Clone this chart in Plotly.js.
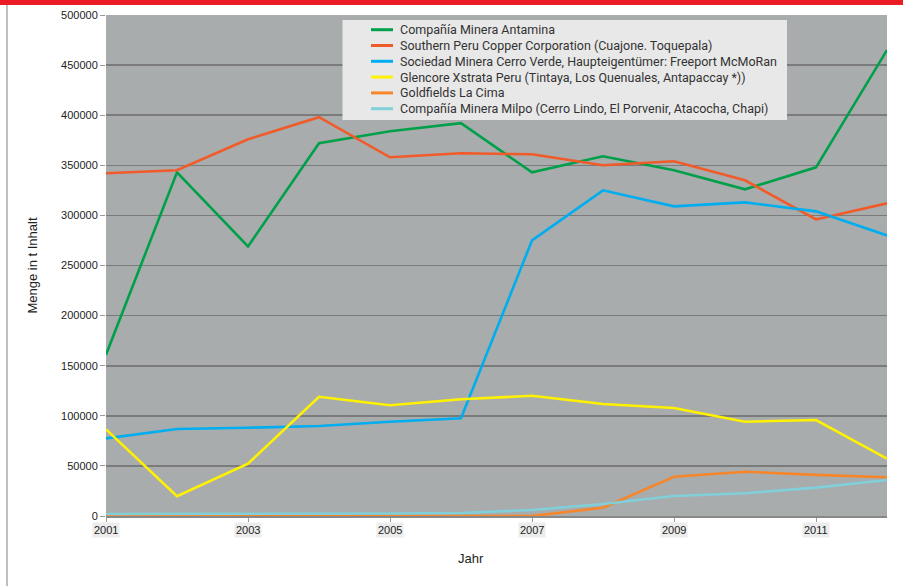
<!DOCTYPE html>
<html>
<head>
<meta charset="utf-8">
<script src="https://cdn.plot.ly/plotly-3.0.1.min.js"></script>
<style>html,body{margin:0;padding:0;background:#fff;}#chart{width:903px;height:586px;}</style>
</head>
<body>
<div id="chart"></div>
<script>
const years = [2001, 2002, 2003, 2004, 2005, 2006, 2007, 2008, 2009, 2010, 2011, 2012];
const seriesNames = [
  "Compañía Minera Antamina",
  "Southern Peru Copper Corporation (Cuajone. Toquepala)",
  "Sociedad Minera Cerro Verde, Haupteigentümer: Freeport McMoRan",
  "Glencore Xstrata Peru (Tintaya, Los Quenuales, Antapaccay *))",
  "Goldfields La Cima",
  "Compañía Minera Milpo (Cerro Lindo, El Porvenir, Atacocha, Chapi)"
];
const antamina   = [161000, 343000, 269000, 372000, 384000, 392000, 343000, 359000, 345000, 326000, 348000, 465000];
const southern   = [342000, 345000, 376000, 398000, 358000, 362000, 361000, 350000, 354000, 335000, 296000, 312000];
const cerroVerde = [77500, 86800, 88100, 89800, 94100, 97500, 275000, 325000, 309000, 313000, 304000, 280000];
const glencore   = [86500, 19700, 52200, 119000, 110500, 116500, 120000, 111800, 107800, 94100, 95800, 57200];
const goldfields = [0, 0, 0, 0, 0, 0, 0, 8300, 39200, 44200, 41000, 38600];
const milpo      = [2000, 2000, 2000, 2000, 2500, 3000, 6000, 12000, 20000, 22700, 28300, 36000];
const colors = ["#00a04b", "#f15a29", "#00aeef", "#fff200", "#f7862b", "#80cfd9"];
const xTickVals = [2001, 2003, 2005, 2007, 2009, 2011];
const xTickText = ["2001", "2003", "2005", "2007", "2009", "2011"];
const yTickVals = [0, 50000, 100000, 150000, 200000, 250000, 300000, 350000, 400000, 450000, 500000];
const yTickText = ["0", "50000", "100000", "150000", "200000", "250000", "300000", "350000", "400000", "450000", "500000"];

const allSeries = [antamina, southern, cerroVerde, glencore, goldfields, milpo];
const traces = allSeries.map((vals, i) => ({
  x: years, y: vals, type: "scatter", mode: "lines",
  name: seriesNames[i],
  line: {color: colors[i], width: 2.6}
}));

// plot area geometry helpers (pixels -> paper fractions)
const PL = 106, PW = 781, PB = 516, PH = 501;
const px = v => (v - PL) / PW;
const py = v => (PB - v) / PH;

const annotations = xTickVals.map((v, i) => ({
  x: v, xref: "x", y: py(522), yref: "paper", yanchor: "top",
  text: xTickText[i], showarrow: false,
  bgcolor: "#ececec", borderpad: 1,
  font: {family: "Liberation Sans, Arial, sans-serif", size: 11, color: "#222"}
}));
annotations.push({
  x: px(471), xref: "paper", y: py(558), yref: "paper", yanchor: "middle",
  text: "Jahr", showarrow: false,
  font: {family: "Liberation Sans, Arial, sans-serif", size: 13, color: "#222"}
});

const shapes = [
  {type: "rect", xref: "paper", yref: "paper", x0: -0.14, x1: 1.03, y0: py(5), y1: py(-2),
   fillcolor: "#ec1c24", line: {width: 0}},
  {type: "line", xref: "paper", yref: "paper", x0: px(7), x1: px(7), y0: py(590), y1: py(5),
   line: {color: "#aaaaaa", width: 1.5}},
  {type: "rect", xref: "paper", yref: "paper", x0: px(342.5), x1: px(787), y0: py(120), y1: py(20),
   fillcolor: "#e8e8e8", line: {width: 0}}
];

// custom compact legend
seriesNames.forEach((name, i) => {
  const yc = 29.7 + i * 15.8;
  shapes.push({type: "line", xref: "paper", yref: "paper", x0: px(371), x1: px(393), y0: py(yc), y1: py(yc),
    line: {color: colors[i], width: 3}});
  annotations.push({x: px(398), xref: "paper", y: py(yc), yref: "paper", xanchor: "left", yanchor: "middle",
    text: name, showarrow: false,
    font: {family: "Roboto, sans-serif", size: 12.5, color: "#333"}});
});

const layout = {
  width: 903, height: 586,
  margin: {l: 106, r: 16, t: 15, b: 70},
  paper_bgcolor: "#ffffff",
  plot_bgcolor: "#a9acac",
  font: {family: "Liberation Sans, Arial, sans-serif", size: 11, color: "#222"},
  showlegend: false,
  xaxis: {
    range: [2001, 2012], tickmode: "array", tickvals: xTickVals, ticktext: xTickText,
    showticklabels: false, showgrid: false, zeroline: false,
    ticks: "outside", ticklen: 4, tickcolor: "#999", tickwidth: 1,
    showline: true, linecolor: "#888", linewidth: 2
  },
  yaxis: {
    range: [0, 500000], tickmode: "array", tickvals: yTickVals, ticktext: yTickText,
    showgrid: true, gridcolor: "#7b7b7b", gridwidth: 1.6, zeroline: false,
    ticks: "outside", ticklen: 5, tickcolor: "#999", tickwidth: 1,
    showline: false,
    tickfont: {size: 11, color: "#222"},
    title: {text: "Menge in t Inhalt", font: {size: 13, color: "#222"}, standoff: 20}
  },
  annotations: annotations,
  shapes: shapes
};

Plotly.newPlot("chart", traces, layout, {displayModeBar: false, staticPlot: true});
</script>
</body>
</html>
